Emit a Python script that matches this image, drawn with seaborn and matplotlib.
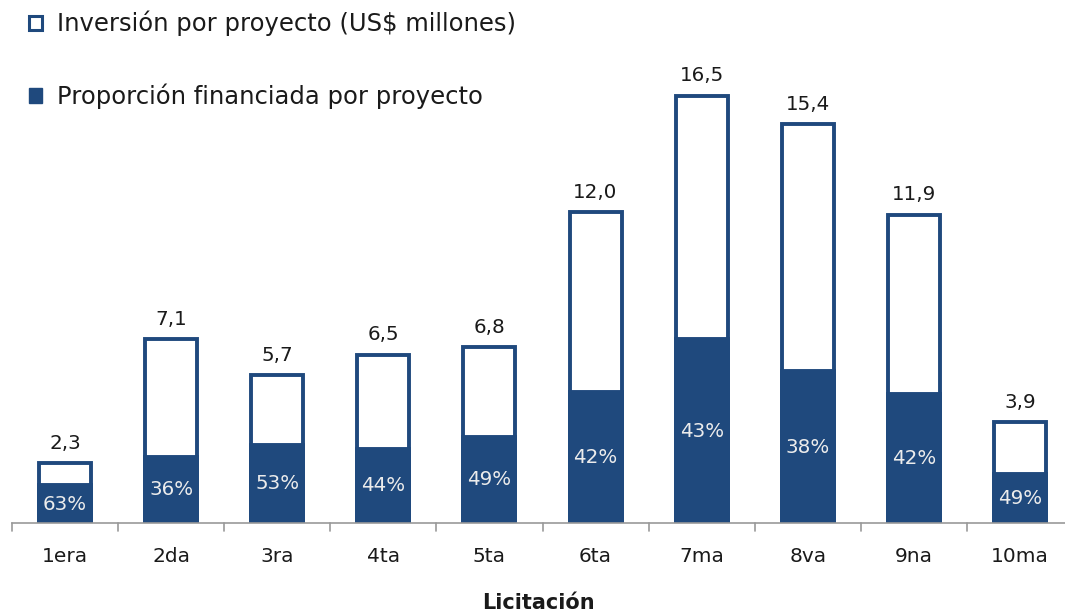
import matplotlib
matplotlib.use("Agg")
import matplotlib.pyplot as plt
import seaborn as sns
import pandas as pd
from matplotlib.patches import Patch

categories = ["1era", "2da", "3ra", "4ta", "5ta", "6ta", "7ma", "8va", "9na", "10ma"]
inversion = [2.3, 7.1, 5.7, 6.5, 6.8, 12.0, 16.5, 15.4, 11.9, 3.9]
proporcion = [63, 36, 53, 44, 49, 42, 43, 38, 42, 49]

sns.set_theme(style="white")
plt.rcParams['font.family'] = ['DejaVu Sans']

BLUE = "#1F497D"
df = pd.DataFrame({"cat": categories, "inv": inversion, "pct": proporcion})
df["fin"] = df["inv"] * df["pct"] / 100.0

fig = plt.figure(figsize=(10.65, 6.13), dpi=100)
W, H = 1065, 613
base = 523
scale = 25.9
ax = fig.add_axes([12 / W, (H - base) / H, (W - 12) / W, base / H])

sns.barplot(data=df, x="cat", y="inv", color="white", edgecolor=BLUE,
            linewidth=2.8, width=0.49, ax=ax, saturation=1)
sns.barplot(data=df, x="cat", y="fin", color=BLUE, edgecolor=BLUE,
            linewidth=2.8, width=0.49, ax=ax, saturation=1)

ax.set_xlim(-0.5, 9.5 - 8 / 106)
ax.set_ylim(0, base / scale)

for i, (v, f, p) in enumerate(zip(df["inv"], df["fin"], df["pct"])):
    ax.text(i, v + 0.4, f"{v:.1f}".replace(".", ","), ha="center", va="bottom",
            fontsize=14.3, color="#1a1a1a")
    ax.text(i, f / 2, f"{p}%", ha="center", va="center", fontsize=14.3,
            color="#ececec")

for s in ["top", "right", "left"]:
    ax.spines[s].set_visible(False)
ax.spines["bottom"].set_color("#999999")
ax.spines["bottom"].set_linewidth(1.2)
ax.set_yticks([])
ax.set_ylabel("")
ax.set_xticks(range(len(categories)))
ax.set_xticklabels(categories, fontsize=14.5, color="#1a1a1a")
ax.tick_params(axis="x", length=0, pad=17)
for b in [i + 0.5 for i in range(-1, len(categories))]:
    ax.plot([b, b], [0, -0.3], color="#999999", lw=1.2, clip_on=False)
ax.set_xlabel("Licitación", fontsize=15, fontweight="bold", labelpad=20,
              color="#1a1a1a")

handles = [Patch(facecolor="white", edgecolor=BLUE, linewidth=2.2),
           Patch(facecolor=BLUE, edgecolor=BLUE, linewidth=1)]
leg = fig.legend(handles, ["Inversión por proyecto (US$ millones)",
                           "Proporción financiada por proyecto"],
                 loc="upper left", bbox_to_anchor=(29 / W, 1 - 11 / H),
                 frameon=False, fontsize=17.5, labelspacing=1.95,
                 handlelength=0.55, handleheight=0.55, handletextpad=0.6,
                 borderaxespad=0, borderpad=0)
for t in leg.get_texts():
    t.set_color("#1a1a1a")

fig.savefig("out.png", dpi=100)
